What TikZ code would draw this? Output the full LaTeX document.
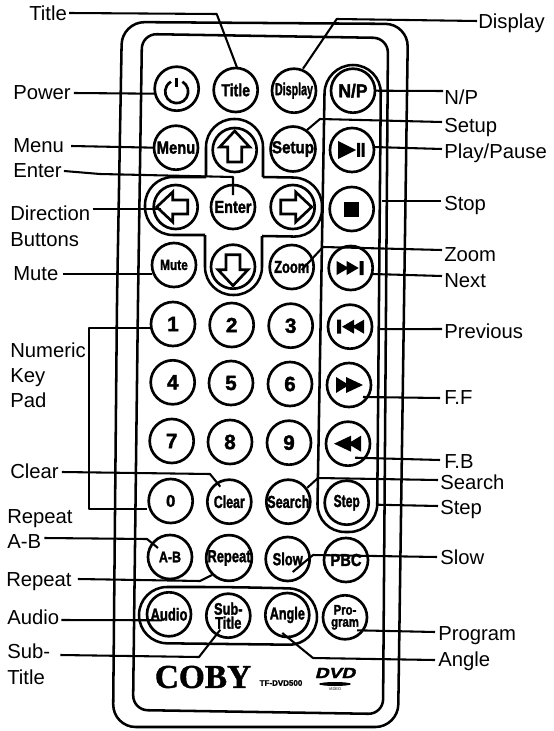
\documentclass[tikz,border=0pt]{standalone}
\usepackage{fontspec}
\usepackage{graphicx}
\setmainfont{Liberation Sans}
\newfontfamily\btnfont[FakeBold=2]{Liberation Sans Bold}
\newfontfamily\cobyfont[FakeBold=1.2]{Liberation Serif Bold}
\newcommand{\bt}[2]{\scalebox{\fpeval{#1*0.81}}[1]{#2}}
\tikzset{
  outline/.style={draw=black,line width=1.9pt,line join=round},
  btn/.style={circle,draw=black,line width=2pt,minimum size=33pt,inner sep=0pt,align=center,font=\btnfont\fontsize{13}{12}\selectfont},
  digit/.style={btn,font=\btnfont\fontsize{15.5}{15}\selectfont},
  lbl/.style={anchor=west,inner sep=0pt,font=\fontsize{15.2}{18}\selectfont,align=left,text height=11pt,text depth=0pt},
  conn/.style={draw=black,line width=1.55pt,line join=round},
  arrowicon/.style={draw=black,line width=2pt,line join=miter},
}
\begin{document}
\begin{tikzpicture}[x=0.75pt,y=-0.75pt]
\useasboundingbox (0,0) rectangle (553,731);
% body
\draw[outline,rounded corners=17pt] (117,300) -- (122,22) -- (408,24) -- (398,727) -- (113,727) -- cycle;
\draw[outline,rounded corners=11pt] (138,300) -- (142,34) -- (388,38) -- (383,714) -- (133,710) -- cycle;
% groups
\draw[outline,rounded corners=21pt] (321,300) -- (325,65) -- (381,65) -- (377,532) -- (317,532) -- cycle;
\draw[outline,rounded corners=21pt]
  (206,177) -- (206,119) -- (263,119) -- (263,177)
  (263,177) -- (322,178) -- (322,237) -- (262,236)
  (262,236) -- (262,295) -- (205,295) -- (205,235)
  (205,235) -- (145,235) -- (145,177) -- (206,177);
\draw[outline,rounded corners=21pt] (228,587) -- (317,589) -- (317,645) -- (139,643) -- (139,587) -- cycle;
% buttons
\node[btn] (bPower) at (176.7,88.7) {};
\node[btn] (bTitle) at (235.7,90) {\bt{1}{Title}};
\node[btn] (bDisplay) at (294,90.7) {\bt{.76}{Display}};
\node[btn,font=\btnfont\fontsize{14}{14}\selectfont] (bNP) at (353,90.7) {\bt{1.15}{N/P}};
\node[btn] (bMenu) at (176,147.7) {\bt{1.05}{Menu}};
\node[btn] (bUp) at (234.7,150) {};
\node[btn] (bSetup) at (293,149) {\bt{1.08}{Setup}};
\node[btn] (bPlay) at (352,150) {};
\node[btn] (bLeft) at (175.7,207) {};
\node[btn] (bEnter) at (233,207) {\bt{1.03}{Enter}};
\node[btn] (bRight) at (292.7,207) {};
\node[btn] (bStop) at (351.7,209) {};
\node[btn,font=\btnfont\fontsize{11}{11}\selectfont] (bMute) at (174,265) {\bt{1.0}{Mute}};
\node[btn] (bDown) at (233,266.7) {};
\node[btn] (bZoom) at (291.7,267) {\bt{.92}{Zoom}};
\node[btn] (bNext) at (350.7,268) {};
\node[digit] (b1) at (173,324) {1};
\node[digit] (b2) at (231.7,325) {2};
\node[digit] (b3) at (290.7,325.7) {3};
\node[btn] (bPrev) at (350,326.7) {};
\node[digit] (b4) at (172.7,382.3) {4};
\node[digit] (b5) at (231,383) {5};
\node[digit] (b6) at (290,384) {6};
\node[btn] (bFF) at (349,385) {};
\node[digit] (b7) at (171.7,441) {7};
\node[digit] (b8) at (230,442) {8};
\node[digit] (b9) at (289,442.7) {9};
\node[btn] (bFB) at (348,443.7) {};
\node[digit,font=\btnfont\fontsize{12.5}{12}\selectfont] (b0) at (170.7,501) {0};
\node[btn] (bClear) at (229.3,501.7) {\bt{.88}{Clear}};
\node[btn] (bSearch) at (288.3,501.7) {\bt{.9}{Search}};
\node[btn] (bStep) at (346.7,502.7) {\bt{.86}{Step}};
\node[btn,font=\btnfont\fontsize{11.5}{11}\selectfont] (bAB) at (170,557) {\bt{1.0}{A-B}};
\node[btn] (bRepeat) at (229,558) {\bt{.92}{Repeat}};
\node[btn] (bSlow) at (287.7,559) {\bt{.92}{Slow}};
\node[btn] (bPBC) at (346,560) {\bt{1.05}{PBC}};
\node[btn] (bAudio) at (169,614.3) {\bt{.93}{Audio}};
\node[btn,font=\btnfont\fontsize{12.5}{11.5}\selectfont] (bSub) at (228.3,615.7) {\bt{.95}{Sub-}\\[-1pt]\bt{.95}{Title}};
\node[btn] (bAngle) at (287.3,615) {\bt{.9}{Angle}};
\node[btn,font=\btnfont\fontsize{10.5}{10}\selectfont] (bProg) at (345,617.3) {\bt{1.0}{Pro-}\\[-1pt]\bt{1.0}{gram}};
% icons
\draw[line width=2pt,shift={(bPower)}] (0,-11) -- (0,-2);
\draw[line width=2pt,shift={(bPower)}] (5.75,-7) arc[start angle=-60,end angle=240,radius=11.5];
\draw[arrowicon,shift={(bUp)}] (0,-19) -- (15,-3) -- (7,-3) -- (7,12) -- (-7,12) -- (-7,-3) -- (-15,-3) -- cycle;
\draw[arrowicon,shift={(bDown)}] (0,19) -- (15,3) -- (7,3) -- (7,-12) -- (-7,-12) -- (-7,3) -- (-15,3) -- cycle;
\draw[arrowicon,shift={(bLeft)}] (-19,0) -- (-3,-15) -- (-3,-7) -- (12,-7) -- (12,7) -- (-3,7) -- (-3,15) -- cycle;
\draw[arrowicon,shift={(bRight)}] (19,0) -- (3,-15) -- (3,-7) -- (-12,-7) -- (-12,7) -- (3,7) -- (3,15) -- cycle;
\fill[shift={(bPlay)}] (-14,-9) -- (4,0) -- (-14,9) -- cycle (5,-7) rectangle (8,7) (9.5,-7) rectangle (12.5,7);
\fill[shift={(bStop)}] (-7.5,-7.5) rectangle (7.5,7.5);
\fill[shift={(bNext)}] (-14,-7) -- (-2,0) -- (-14,7) -- cycle (-4,-7) -- (8,0) -- (-4,7) -- cycle (9,-7) rectangle (13,7);
\fill[shift={(bPrev)}] (14,-7) -- (2,0) -- (14,7) -- cycle (4,-7) -- (-8,0) -- (4,7) -- cycle (-9,-7) rectangle (-13,7);
\fill[shift={(bFF)}] (-13,-8) -- (0,0) -- (-13,8) -- cycle (-3,-8) -- (14,0) -- (-3,8) -- cycle;
\fill[shift={(bFB)}] (13,-8) -- (0,0) -- (13,8) -- cycle (3,-8) -- (-14,0) -- (3,8) -- cycle;
% labels
\node[lbl] (lTitle) at (29,13) {Title};
\node[lbl] (lDisplay) at (478,21) {Display};
\node[lbl] (lPower) at (13,92) {Power};
\node[lbl] (lNP) at (444,97) {N/P};
\node[lbl] (lSetup) at (444,125) {Setup};
\node[lbl] (lPlay) at (444,151) {Play/Pause};
\node[lbl] (lMenu) at (13,145) {Menu};
\node[lbl] (lEnter) at (13,170) {Enter};
\node[lbl] (lDir) at (10,213) {Direction};
\node[lbl] (lBtns) at (10,239) {Buttons};
\node[lbl] (lStop) at (444,203) {Stop};
\node[lbl] (lMute) at (13,273) {Mute};
\node[lbl] (lZoom) at (444,254) {Zoom};
\node[lbl] (lNext) at (444,280) {Next};
\node[lbl] (lPrev) at (444,331) {Previous};
\node[lbl] (lNum) at (10,350) {Numeric};
\node[lbl] (lKey) at (10,375) {Key};
\node[lbl] (lPad) at (10,400) {Pad};
\node[lbl] (lFF) at (444,397) {F.F};
\node[lbl] (lFB) at (444,461) {F.B};
\node[lbl] (lClear) at (10,471) {Clear};
\node[lbl] (lSearch) at (440,482) {Search};
\node[lbl] (lStep) at (440,507) {Step};
\node[lbl] (lRep1) at (7,516) {Repeat};
\node[lbl] (lRep2) at (7,541) {A-B};
\node[lbl] (lRepeat) at (6,579) {Repeat};
\node[lbl] (lSlow) at (440,557) {Slow};
\node[lbl] (lAudio) at (7,617) {Audio};
\node[lbl] (lProgram) at (438,633) {Program};
\node[lbl] (lSub1) at (7,651) {Sub-};
\node[lbl] (lSub2) at (7,677) {Title};
\node[lbl] (lAngle) at (438,659) {Angle};
% brand
\node[inner sep=0pt,font=\cobyfont\fontsize{25}{25}\selectfont] (coby) at (203,677) {COBY};
\node[inner sep=0pt,font=\btnfont\fontsize{6}{6}\selectfont] (model) at (281,683) {TF-DVD500};
\node[inner sep=0pt,font=\btnfont\fontsize{11}{11}\selectfont] (dvd) at (335,673) {\scalebox{1.3}[1]{\addfontfeature{FakeSlant=0.2}DVD}};
\fill (335,684) ellipse [x radius=16,y radius=2];
\node[inner sep=0pt,font=\fontsize{3}{3}\selectfont] (video) at (335,689) {VIDEO};
% connectors
\draw[conn] ([shift={(2,0)}]lTitle.east) -- (216.7,14) -- ([shift={(1.5,-22)}]bTitle.center);
\draw[conn] ([shift={(-1,0)}]lDisplay.west) -- (336.7,19) -- ([shift={(9,-22)}]bDisplay.center);
\draw[conn] ([shift={(3,1)}]lPower.east) -- ([shift={(-22,5)}]bPower.center);
\draw[conn] ([shift={(-1,-6)}]lNP.west) -- ([shift={(21,0)}]bNP.center);
\draw[conn] ([shift={(-2,-3)}]lSetup.west) -- (320,119) -- ([shift={(14,-19)}]bSetup.center);
\draw[conn] ([shift={(-2,-2)}]lPlay.west) -- ([shift={(21,-3)}]bPlay.center);
\draw[conn] ([shift={(7,1)}]lMenu.east) -- ([shift={(-21,0)}]bMenu.center);
\draw[conn] ([shift={(2,1)}]lEnter.east) -- (100,174) -- (233,177) -- ([shift={(0,-12)}]bEnter.center);
\draw[conn] ([shift={(2,-4)}]lDir.east) -- ([shift={(-15,2)}]bLeft.center);
\draw[conn] ([shift={(-3,-2)}]lStop.west) -- ([shift={(30,-8)}]bStop.center);
\draw[conn] ([shift={(4,1)}]lMute.east) -- ([shift={(-22,9)}]bMute.center);
\draw[conn] ([shift={(-2,-4)}]lZoom.west) -- (323,247) -- ([shift={(10,3)}]bZoom.center);
\draw[conn] ([shift={(-2,-4)}]lNext.west) -- ([shift={(22,6)}]bNext.center);
\draw[conn] ([shift={(-2,-2)}]lPrev.west) -- ([shift={(30,2.5)}]bPrev.center);
\draw[conn] ([shift={(-4,1)}]lFF.west) -- ([shift={(14,12)}]bFF.center);
\draw[conn] ([shift={(-4,-1)}]lFB.west) -- ([shift={(7,14)}]bFB.center);
\draw[conn] ([shift={(3,1)}]lClear.east) -- (210,474) -- ([shift={(-9,-15)}]bClear.center);
\draw[conn] ([shift={(-2,-2)}]lSearch.west) -- (318,478) -- ([shift={(19,-14)}]bSearch.center);
\draw[conn] ([shift={(-2,-1)}]lStep.west) -- ([shift={(30,2)}]bStep.center);
\draw[conn] ([shift={(-22,4)}]b1.center) -- (89,328) -- (89,509) -- ([shift={(-24,8)}]b0.center);
\draw[conn] ([shift={(3,-3)}]lRep2.east) -- (147,539) -- ([shift={(-12,-9)}]bAB.center);
\draw[conn] ([shift={(6,0)}]lRepeat.east) -- (200,581) -- ([shift={(-17,17)}]bRepeat.center);
\draw[conn] ([shift={(-3,0)}]lSlow.west) -- (313,555) -- ([shift={(5,13)}]bSlow.center);
\draw[conn] ([shift={(2,3)}]lAudio.east) -- ([shift={(-7,6)}]bAudio.center);
\draw[conn] ([shift={(-3,-1)}]lProgram.west) -- ([shift={(12,13)}]bProg.center);
\draw[conn] ([shift={(10,4)}]lSub1.east) -- (199,657) -- ([shift={(-8,14)}]bSub.center);
\draw[conn] ([shift={(-3,1)}]lAngle.west) -- (313,658) -- ([shift={(-5,18)}]bAngle.center);
\end{tikzpicture}
\end{document}
